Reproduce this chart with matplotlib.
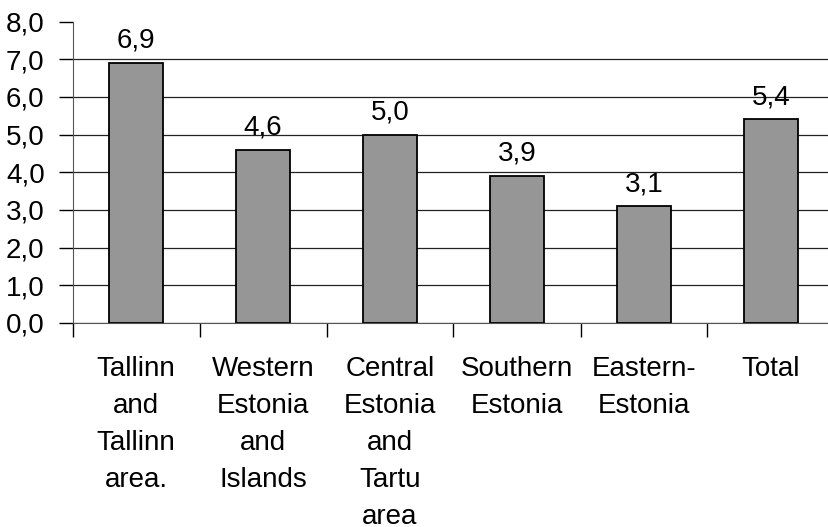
import matplotlib
matplotlib.use("Agg")
import matplotlib.pyplot as plt

# regions and their values
regions = ["Tallinn\nand\nTallinn\narea.", "Western\nEstonia\nand\nIslands",
           "Central\nEstonia\nand\nTartu\narea", "Southern\nEstonia",
           "Eastern-\nEstonia", "Total"]
values = [6.9, 4.6, 5.0, 3.9, 3.1, 5.4]
yticks = [0, 1, 2, 3, 4, 5, 6, 7, 8]


def comma(v):
    return ("%.1f" % v).replace(".", ",")


plt.rcParams['font.family'] = ['Liberation Sans', 'DejaVu Sans']
plt.rcParams['font.size'] = 20

fig = plt.figure(figsize=(8.29, 5.27), dpi=100)
ax = fig.add_axes([72.5 / 829, 204 / 527, 756.5 / 829, 301.5 / 527])

x = list(range(len(values)))
ax.bar(x, values, width=0.425, color='#969696', edgecolor='black',
       linewidth=1.3, zorder=3)

# value labels above the bars
for xi, v in zip(x, values):
    ax.annotate(comma(v), (xi, v), xytext=(0, 6.5), textcoords='offset points',
                ha='center', va='bottom', fontsize=20)

ax.set_ylim(0, 8)
ax.set_xlim(-0.5, -0.5 + 756.5 / 127)
ax.set_yticks(yticks)
ax.set_yticklabels([comma(t) for t in yticks])
ax.yaxis.grid(True, color='#222222', linewidth=0.9, zorder=0)
ax.set_axisbelow(True)
# no gridline along the top of the axis
ax.yaxis.get_major_ticks()[-1].gridline.set_visible(False)

# category boundaries carry the tick marks, labels sit in the middle
ax.set_xticks([i + 0.5 for i in x[:-1]] + [-0.5])
ax.set_xticklabels([])
ax.set_xticks(x, minor=True)
ax.set_xticklabels(regions, minor=True, linespacing=1.54)
ax.tick_params(axis='x', which='minor', length=0, pad=24)
ax.tick_params(axis='x', which='major', length=10, width=1, direction='out')
ax.tick_params(axis='y', length=10, width=1, pad=10, direction='out')

for s in ['top', 'right']:
    ax.spines[s].set_visible(False)
ax.spines['left'].set_color('#555555')
ax.spines['bottom'].set_color('#555555')

fig.savefig("out.png", dpi=100)
